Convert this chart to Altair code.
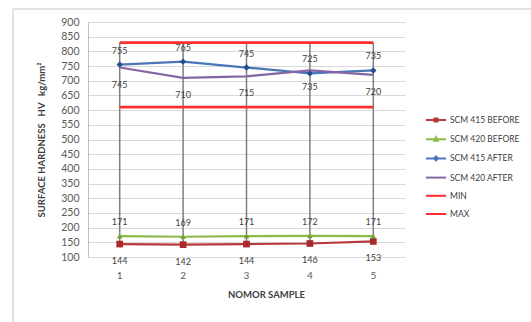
import altair as alt
import pandas as pd

categories = [1, 2, 3, 4, 5]
series_names = ["SCM 415 BEFORE", "SCM 420 BEFORE", "SCM 415 AFTER", "SCM 420 AFTER", "MIN", "MAX"]
scm415_before = [144, 142, 144, 146, 153]
scm420_before = [171, 169, 171, 172, 171]
scm415_after = [755, 765, 745, 725, 735]
scm420_after = [745, 710, 715, 735, 720]
min_values = [610, 610, 610, 610, 610]
max_values = [830, 830, 830, 830, 830]
y_ticks = list(range(100, 901, 50))

labels_above = ["SCM 420 BEFORE", "SCM 415 AFTER"]
labels_below = ["SCM 415 BEFORE", "SCM 420 AFTER"]

line_colors = ["#B8393B", "#8CB94A", "#4A76B6", "#8466A6", "#FF2E2E", "#FF2E2E"]
line_widths = [2.2, 2.2, 2.2, 2.2, 2.8, 2.8]
marker_specs = [("SCM 415 BEFORE", "square", "#A92A2A", 45),
                ("SCM 420 BEFORE", "triangle-up", "#6FA230", 30),
                ("SCM 415 AFTER", "diamond", "#234F92", 40)]
legend_paths = [
    "M-1,0L3,0M0.7,-0.3L1.3,-0.3L1.3,0.3L0.7,0.3Z",
    "M-1,0L3,0M1,-0.4L1.35,0.3L0.65,0.3Z",
    "M-1,0L3,0M1,-0.4L1.4,0L1,0.4L0.6,0Z",
    "M-1,0L3,0",
    "M-1,0L3,0",
    "M-1,0L3,0",
]

all_values = [scm415_before, scm420_before, scm415_after, scm420_after, min_values, max_values]
rows = []
for name, vals in zip(series_names, all_values):
    for c, v in zip(categories, vals):
        rows.append({"cat": c, "series": name, "value": v})
df = pd.DataFrame(rows)

hl = df.groupby("cat")["value"].agg(["max", "min"]).reset_index()
hl.columns = ["cat", "hi", "lo"]

FONT = "Lato"
NB = "\u00a0"
x_axis = alt.Axis(labelAngle=0, ticks=False, domain=False, grid=False,
                  labelFontSize=10, labelColor="#595959", labelPadding=13,
                  labelFont=FONT,
                  title="NOMOR SAMPLE", titleFont=FONT, titleFontSize=9.5,
                  titleFontWeight="bold", titleColor="#404040",
                  titleX=178, titleY=37, titleAnchor="middle",
                  titleBaseline="middle")
x_enc = alt.X("cat:O", scale=alt.Scale(domain=categories), axis=x_axis)
y_scale = alt.Scale(domain=[100, 900], nice=False)
y_axis = alt.Axis(values=y_ticks, grid=True, gridColor="#D9D9D9", gridWidth=1,
                  domainColor="#BFBFBF", ticks=False, labelFontSize=10.5,
                  labelColor="#595959", labelPadding=9, labelFont=FONT,
                  labelOverlap=False,
                  title="SURFACE HARDNESS" + NB * 3 + "HV" + NB * 3 + "kg/mm²", titleFont=FONT,
                  titleFontSize=9.5, titleFontWeight="bold", titleColor="#404040",
                  titleX=-47, titleY=117.5, titleAngle=-90,
                  titleAnchor="middle", titleBaseline="middle")
y_enc = alt.Y("value:Q", scale=y_scale, axis=y_axis)

color_scale = alt.Scale(domain=series_names, range=line_colors)

base = alt.Chart(df)

border = alt.Chart(pd.DataFrame({"k": [0]})).mark_rule(color="#D9D9D9", strokeWidth=1.5).encode(
    x=alt.value(-75), x2=alt.value(460), y=alt.value(-13)
)
border_left = alt.Chart(pd.DataFrame({"k": [0]})).mark_rule(color="#D9D9D9", strokeWidth=1.5).encode(
    x=alt.value(-75), y=alt.value(-13), y2=alt.value(310)
)

hilo = alt.Chart(hl).mark_rule(color="#7F7F7F", strokeWidth=1.5).encode(
    x=x_enc, y=alt.Y("hi:Q", scale=y_scale, axis=y_axis), y2="lo:Q"
)

line_layers = []
for name, col, w in zip(series_names, line_colors, line_widths):
    line_layers.append(
        base.transform_filter(alt.datum.series == name).mark_line(
            strokeWidth=w, color=col
        ).encode(x=x_enc, y=y_enc)
    )

marker_layers = []
for name, shape, col, size in marker_specs:
    marker_layers.append(
        base.transform_filter(alt.datum.series == name).mark_point(
            shape=shape, filled=True, size=size, color=col, opacity=1
        ).encode(x=x_enc, y=y_enc)
    )

text_above = base.transform_filter(
    alt.FieldOneOfPredicate(field="series", oneOf=labels_above)
).mark_text(dy=-14, fontSize=9, color="#404040", font=FONT).encode(
    x=x_enc, y=y_enc, text="value:Q"
)
text_below = base.transform_filter(
    alt.FieldOneOfPredicate(field="series", oneOf=labels_below)
).mark_text(dy=17, fontSize=9, color="#404040", font=FONT).encode(
    x=x_enc, y=y_enc, text="value:Q"
)

leg = alt.Legend(title=None, orient="none", legendX=337, legendY=92, padding=0,
                 symbolSize=100, symbolStrokeWidth=2, symbolOpacity=1,
                 labelFontSize=8.5, labelColor="#404040", labelFont=FONT,
                 labelOffset=13, rowPadding=7.2)
legend_layer = base.mark_point(filled=False, opacity=0, strokeWidth=2).encode(
    x=x_enc, y=y_enc,
    color=alt.Color("series:N", scale=color_scale, legend=leg, sort=series_names),
    shape=alt.Shape("series:N", scale=alt.Scale(domain=series_names, range=legend_paths),
                    legend=leg, sort=series_names),
)

chart = alt.layer(
    border, border_left, hilo, *line_layers, *marker_layers,
    text_above, text_below, legend_layer
).properties(
    width=317, height=235,
    autosize=alt.AutoSizeParams(type="none"),
    padding={"left": 88, "top": 22, "right": 126, "bottom": 65},
    background="white",
).configure_view(stroke=None)

chart.save("out.html", embed_options={"renderer": "svg", "actions": False})
